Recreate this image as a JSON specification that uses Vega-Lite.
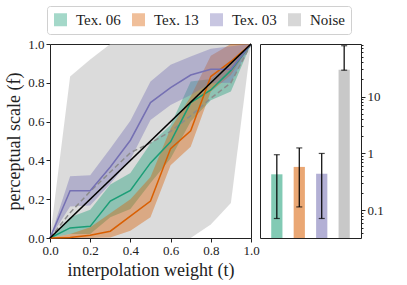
{
  "$schema": "https://vega.github.io/schema/vega-lite/v6.json",
  "padding": {"left": 5, "top": 5, "right": 5, "bottom": 5},
  "bounds": "flush",
  "spacing": 9,
  "datasets": {
    "curves": [
      {"series": "Tex. 06", "t": 0.0, "mean": 0.0, "lo": 0.0, "hi": 0.0},
      {"series": "Tex. 06", "t": 0.1, "mean": 0.052, "lo": 0.02, "hi": 0.107},
      {"series": "Tex. 06", "t": 0.2, "mean": 0.06, "lo": 0.02, "hi": 0.145},
      {"series": "Tex. 06", "t": 0.3, "mean": 0.19, "lo": 0.107, "hi": 0.276},
      {"series": "Tex. 06", "t": 0.4, "mean": 0.245, "lo": 0.15, "hi": 0.335},
      {"series": "Tex. 06", "t": 0.5, "mean": 0.387, "lo": 0.283, "hi": 0.487},
      {"series": "Tex. 06", "t": 0.6, "mean": 0.496, "lo": 0.41, "hi": 0.582},
      {"series": "Tex. 06", "t": 0.7, "mean": 0.698, "lo": 0.6, "hi": 0.807},
      {"series": "Tex. 06", "t": 0.8, "mean": 0.763, "lo": 0.71, "hi": 0.819},
      {"series": "Tex. 06", "t": 0.9, "mean": 0.864, "lo": 0.755, "hi": 0.91},
      {"series": "Tex. 06", "t": 1.0, "mean": 1.0, "lo": 1.0, "hi": 1.0},
      {"series": "Tex. 13", "t": 0.0, "mean": 0.0, "lo": 0.0, "hi": 0.0},
      {"series": "Tex. 13", "t": 0.1, "mean": 0.003, "lo": 0.0, "hi": 0.02},
      {"series": "Tex. 13", "t": 0.2, "mean": 0.014, "lo": 0.0, "hi": 0.055},
      {"series": "Tex. 13", "t": 0.3, "mean": 0.035, "lo": 0.003, "hi": 0.128},
      {"series": "Tex. 13", "t": 0.4, "mean": 0.113, "lo": 0.038, "hi": 0.2},
      {"series": "Tex. 13", "t": 0.5, "mean": 0.19, "lo": 0.107, "hi": 0.314},
      {"series": "Tex. 13", "t": 0.6, "mean": 0.461, "lo": 0.375, "hi": 0.565},
      {"series": "Tex. 13", "t": 0.7, "mean": 0.553, "lo": 0.47, "hi": 0.729},
      {"series": "Tex. 13", "t": 0.8, "mean": 0.832, "lo": 0.755, "hi": 0.94},
      {"series": "Tex. 13", "t": 0.9, "mean": 0.91, "lo": 0.84, "hi": 1.0},
      {"series": "Tex. 13", "t": 1.0, "mean": 1.0, "lo": 1.0, "hi": 1.0},
      {"series": "Tex. 03", "t": 0.0, "mean": 0.0, "lo": 0.0, "hi": 0.0},
      {"series": "Tex. 03", "t": 0.1, "mean": 0.244, "lo": 0.162, "hi": 0.318},
      {"series": "Tex. 03", "t": 0.2, "mean": 0.244, "lo": 0.168, "hi": 0.323},
      {"series": "Tex. 03", "t": 0.3, "mean": 0.366, "lo": 0.28, "hi": 0.461},
      {"series": "Tex. 03", "t": 0.4, "mean": 0.504, "lo": 0.404, "hi": 0.604},
      {"series": "Tex. 03", "t": 0.5, "mean": 0.698, "lo": 0.608, "hi": 0.807},
      {"series": "Tex. 03", "t": 0.6, "mean": 0.775, "lo": 0.686, "hi": 0.893},
      {"series": "Tex. 03", "t": 0.7, "mean": 0.84, "lo": 0.737, "hi": 0.936},
      {"series": "Tex. 03", "t": 0.8, "mean": 0.87, "lo": 0.798, "hi": 0.976},
      {"series": "Tex. 03", "t": 0.9, "mean": 0.87, "lo": 0.8, "hi": 0.988},
      {"series": "Tex. 03", "t": 1.0, "mean": 1.0, "lo": 1.0, "hi": 1.0}
    ],
    "noise": [
      {"t": 0.0, "mean": 0.0, "lo": 0.0, "hi": 0.0},
      {"t": 0.1, "mean": 0.13, "lo": 0.0, "hi": 0.832},
      {"t": 0.2, "mean": 0.24, "lo": 0.0, "hi": 0.92},
      {"t": 0.3, "mean": 0.34, "lo": 0.0, "hi": 1.0},
      {"t": 0.4, "mean": 0.44, "lo": 0.0, "hi": 1.0},
      {"t": 0.5, "mean": 0.49, "lo": 0.0, "hi": 1.0},
      {"t": 0.6, "mean": 0.55, "lo": 0.0, "hi": 1.0},
      {"t": 0.7, "mean": 0.63, "lo": 0.0, "hi": 1.0},
      {"t": 0.8, "mean": 0.72, "lo": 0.07, "hi": 1.0},
      {"t": 0.9, "mean": 0.8, "lo": 0.18, "hi": 1.0},
      {"t": 1.0, "mean": 1.0, "lo": 1.0, "hi": 1.0}
    ],
    "diag": [
      {"t": 0.0, "f": 0.0},
      {"t": 1.0, "f": 1.0}
    ],
    "bars": [
      {"series": "Tex. 06", "value": 0.43, "lo": 0.072, "hi": 0.95},
      {"series": "Tex. 13", "value": 0.58, "lo": 0.115, "hi": 1.25},
      {"series": "Tex. 03", "value": 0.44, "lo": 0.072, "hi": 1.0},
      {"series": "Noise", "value": 29.5, "lo": 29.0, "hi": 78.0}
    ]
  },
  "hconcat": [
    {
      "width": 201,
      "height": 194,
      "layer": [
        {
          "data": {"name": "noise"},
          "mark": {"type": "area", "color": "#bdbdbd", "opacity": 0.55},
          "encoding": {
            "x": {"field": "t", "type": "quantitative", "scale": {"domain": [0, 1], "nice": false},
                  "axis": {"values": [0, 0.2, 0.4, 0.6, 0.8, 1.0], "format": ".1f", "title": "interpolation weight (t)", "labelOverlap": false, "labelFlush": false}},
            "y": {"field": "lo", "type": "quantitative", "scale": {"domain": [0, 1], "nice": false},
                  "axis": {"values": [0, 0.2, 0.4, 0.6, 0.8, 1.0], "format": ".1f", "title": "perceptual scale (f)", "labelOverlap": false, "labelFlush": false}},
            "y2": {"field": "hi"}
          }
        },
        {
          "data": {"name": "curves"},
          "mark": {"type": "area", "opacity": 0.4},
          "encoding": {
            "x": {"field": "t", "type": "quantitative",
                  "axis": {"values": [0, 0.2, 0.4, 0.6, 0.8, 1.0], "format": ".1f", "title": "interpolation weight (t)", "labelOverlap": false, "labelFlush": false}},
            "y": {"field": "lo", "type": "quantitative",
                  "axis": {"values": [0, 0.2, 0.4, 0.6, 0.8, 1.0], "format": ".1f", "title": "perceptual scale (f)", "labelOverlap": false, "labelFlush": false}},
            "y2": {"field": "hi"},
            "color": {"field": "series", "type": "nominal",
                      "scale": {"domain": ["Tex. 06", "Tex. 13", "Tex. 03", "Noise"], "range": ["#1b9e77", "#d95f02", "#7570b3", "#9a9a9a"]},
                      "legend": {"title": null}}
          }
        },
        {
          "data": {"name": "noise"},
          "mark": {"type": "line", "color": "#8c8c8c", "strokeWidth": 1.5, "strokeDash": [5, 3]},
          "encoding": {
            "x": {"field": "t", "type": "quantitative",
                  "axis": {"values": [0, 0.2, 0.4, 0.6, 0.8, 1.0], "format": ".1f", "title": "interpolation weight (t)", "labelOverlap": false, "labelFlush": false}},
            "y": {"field": "mean", "type": "quantitative",
                  "axis": {"values": [0, 0.2, 0.4, 0.6, 0.8, 1.0], "format": ".1f", "title": "perceptual scale (f)", "labelOverlap": false, "labelFlush": false}}
          }
        },
        {
          "data": {"name": "curves"},
          "mark": {"type": "line", "strokeWidth": 1.5},
          "encoding": {
            "x": {"field": "t", "type": "quantitative",
                  "axis": {"values": [0, 0.2, 0.4, 0.6, 0.8, 1.0], "format": ".1f", "title": "interpolation weight (t)", "labelOverlap": false, "labelFlush": false}},
            "y": {"field": "mean", "type": "quantitative",
                  "axis": {"values": [0, 0.2, 0.4, 0.6, 0.8, 1.0], "format": ".1f", "title": "perceptual scale (f)", "labelOverlap": false, "labelFlush": false}},
            "stroke": {"field": "series", "type": "nominal",
                       "scale": {"domain": ["Tex. 06", "Tex. 13", "Tex. 03"], "range": ["#1b9e77", "#d95f02", "#7570b3"]},
                       "legend": null}
          }
        },
        {
          "data": {"name": "diag"},
          "mark": {"type": "line", "color": "#000000", "strokeWidth": 1.6},
          "encoding": {
            "x": {"field": "t", "type": "quantitative",
                  "axis": {"values": [0, 0.2, 0.4, 0.6, 0.8, 1.0], "format": ".1f", "title": "interpolation weight (t)", "labelOverlap": false, "labelFlush": false}},
            "y": {"field": "f", "type": "quantitative",
                  "axis": {"values": [0, 0.2, 0.4, 0.6, 0.8, 1.0], "format": ".1f", "title": "perceptual scale (f)", "labelOverlap": false, "labelFlush": false}}
          }
        }
      ]
    },
    {
      "width": 101,
      "height": 194,
      "layer": [
        {
          "data": {"name": "bars"},
          "mark": {"type": "bar", "opacity": 0.55},
          "encoding": {
            "x": {"field": "series", "type": "nominal", "sort": null, "axis": null,
                  "scale": {"paddingInner": 0.5, "paddingOuter": 0.5}},
            "y": {"field": "value", "type": "quantitative",
                  "scale": {"type": "log", "domain": [0.0327, 83.7], "nice": false},
                  "axis": {"orient": "right", "title": null,
                           "values": [0.04, 0.05, 0.06, 0.07, 0.08, 0.09, 0.1, 0.2, 0.3, 0.4, 0.5, 0.6, 0.7, 0.8, 0.9, 1, 2, 3, 4, 5, 6, 7, 8, 9, 10, 20, 30, 40, 50, 60, 70, 80],
                           "labelExpr": "(datum.value == 0.1 || datum.value == 1 || datum.value == 10) ? format(datum.value, '~g') : ''",
                           "labelOverlap": false, "labelFlush": false,
                           "tickSize": {"condition": {"test": "datum.value == 0.1 || datum.value == 1 || datum.value == 10", "value": 4}, "value": 2}}},
            "y2": {"datum": 0.0327},
            "color": {"field": "series", "type": "nominal"}
          }
        },
        {
          "data": {"name": "bars"},
          "mark": {"type": "rule", "color": "#000000", "strokeWidth": 1.2},
          "encoding": {
            "x": {"field": "series", "type": "nominal", "sort": null},
            "y": {"field": "lo", "type": "quantitative"},
            "y2": {"field": "hi"}
          }
        },
        {
          "data": {"name": "bars"},
          "mark": {"type": "tick", "color": "#000000", "size": 6, "thickness": 1.2},
          "encoding": {
            "x": {"field": "series", "type": "nominal", "sort": null},
            "y": {"field": "lo", "type": "quantitative"}
          }
        },
        {
          "data": {"name": "bars"},
          "mark": {"type": "tick", "color": "#000000", "size": 6, "thickness": 1.2},
          "encoding": {
            "x": {"field": "series", "type": "nominal", "sort": null},
            "y": {"field": "hi", "type": "quantitative"}
          }
        }
      ]
    }
  ],
  "resolve": {"scale": {"color": "shared"}},
  "config": {
    "font": "Liberation Serif",
    "view": {"stroke": "#222222", "strokeWidth": 1},
    "axis": {"grid": false, "domain": false, "tickColor": "#222222", "labelColor": "#222222", "titleColor": "#222222",
             "labelFontSize": 13, "titleFontSize": 18, "titleFontWeight": "normal", "tickSize": 4, "labelPadding": 2,
             "labelFont": "Liberation Serif", "titleFont": "Liberation Serif"},
    "legend": {"orient": "none", "legendX": -3, "legendY": -38, "direction": "horizontal",
               "symbolType": "square", "symbolSize": 169, "symbolOpacity": 0.4, "symbolStrokeWidth": 0,
               "labelFontSize": 15, "labelFont": "Liberation Serif", "labelColor": "#222222", "labelOffset": 8,
               "columnPadding": 10, "padding": 6, "strokeColor": "#d0d0d0", "fillColor": "#ffffff", "cornerRadius": 3}
  }
}
